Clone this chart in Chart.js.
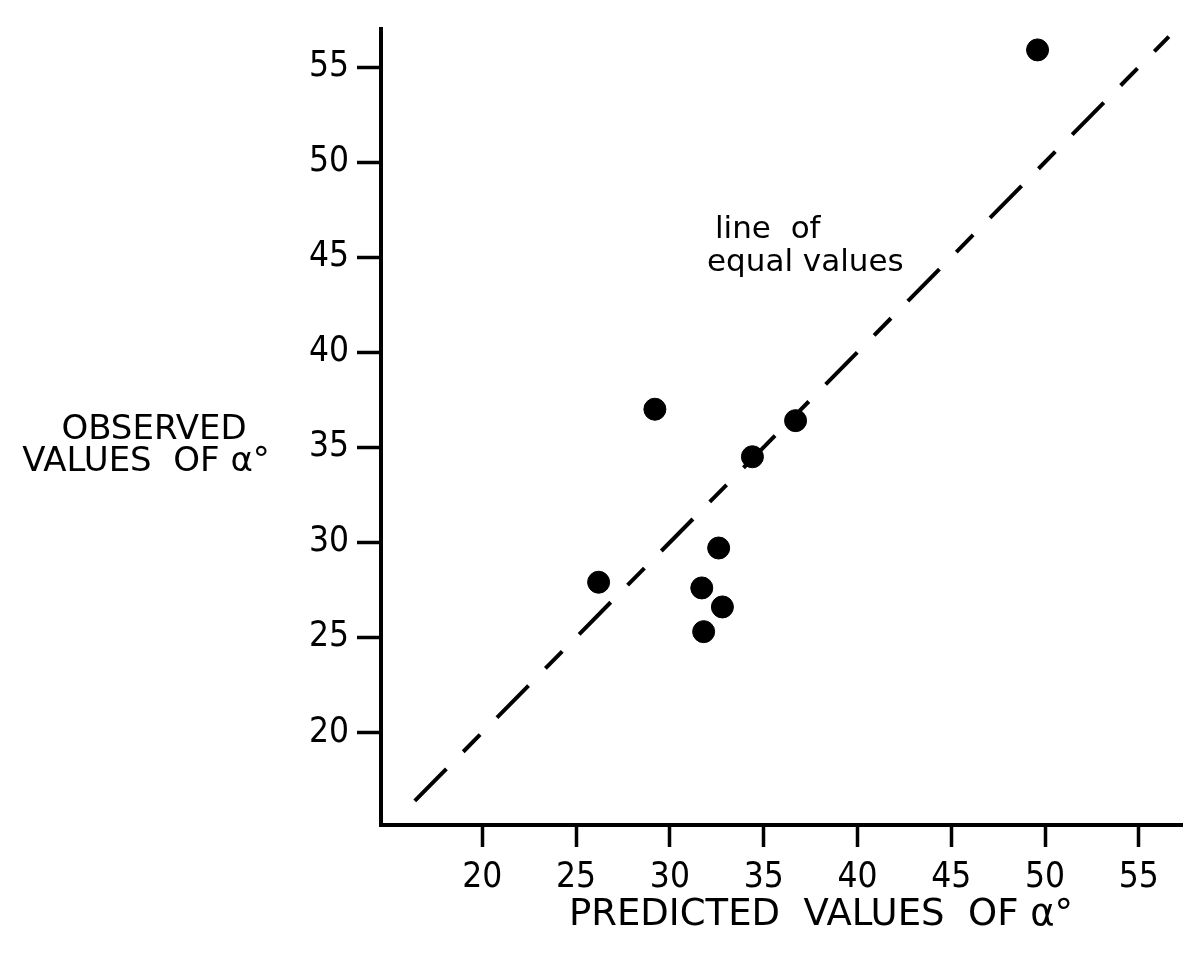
<!DOCTYPE html>
<html lang="en">
<head>
    <meta charset="UTF-8">
    <title>Observed vs predicted values of alpha</title>
    <script src="https://cdn.jsdelivr.net/npm/chart.js"></script>
    <style>
        body {
            margin: 0;
            background: #fff;
        }
        #chart {
            display: block;
        }
    </style>
</head>
<body>
    <canvas id="chart" width="1194" height="968"></canvas>

    <script>
        // values (degrees)
        const predicted = [26.2, 29.2, 31.7, 31.8, 32.6, 32.8, 34.4, 36.7, 49.6];
        const observed  = [27.9, 37.0, 27.6, 25.3, 29.7, 26.6, 34.5, 36.4, 55.9];

        // line of equal values runs from / to these
        const equalLine = [16.4, 56.6];

        // tick labels on both axes
        const tickValues = [20, 25, 30, 35, 40, 45, 50, 55];

        const tickFont = { family: "'Liberation Sans Narrow', 'DejaVu Sans Condensed', sans-serif", size: 35 };
        const textFont = "'DejaVu Sans', sans-serif";

        // axis titles and the label next to the dashed line
        const labelsPlugin = {
            id: 'labels',
            afterDraw(chart) {
                const ctx = chart.ctx;
                ctx.save();
                ctx.fillStyle = '#000';
                ctx.textBaseline = 'alphabetic';
                ctx.textAlign = 'center';

                ctx.font = '34px ' + textFont;
                ctx.fillText('OBSERVED', 154, 439);
                ctx.fillText('VALUES  OF \u03b1\u00b0', 146, 471);

                ctx.font = '37px ' + textFont;
                ctx.fillText('PREDICTED  VALUES  OF \u03b1\u00b0', 821, 925);

                ctx.font = '31px ' + textFont;
                ctx.textAlign = 'left';
                ctx.fillText('line  of', 715, 238);
                ctx.fillText('equal values', 707, 271);
                ctx.restore();
            }
        };

        const ctx = document.getElementById('chart').getContext('2d');
        new Chart(ctx, {
            type: 'scatter',
            data: {
                datasets: [
                    {
                        data: predicted.map((x, i) => ({ x: x, y: observed[i] })),
                        backgroundColor: '#000',
                        borderColor: '#000',
                        pointRadius: 11,
                        pointHoverRadius: 11
                    },
                    {
                        data: equalLine.map(v => ({ x: v, y: v })),
                        showLine: true,
                        borderColor: '#000',
                        borderWidth: 4,
                        borderDash: [45, 24, 24, 24],
                        pointRadius: 0,
                        clip: false
                    }
                ]
            },
            options: {
                responsive: false,
                animation: false,
                devicePixelRatio: 1,
                layout: {
                    padding: { top: 22, right: 0, left: 0, bottom: 0 }
                },
                plugins: {
                    legend: { display: false },
                    tooltip: { enabled: false }
                },
                scales: {
                    x: {
                        type: 'linear',
                        min: 14.6,
                        max: 57.3,
                        afterBuildTicks: s => { s.ticks = tickValues.map(v => ({ value: v })); },
                        afterFit: s => { s.height = 143; },
                        grid: {
                            drawOnChartArea: false,
                            tickLength: 22,
                            tickWidth: 3.5,
                            tickColor: '#000'
                        },
                        border: { display: true, color: '#000', width: 4 },
                        ticks: {
                            color: '#000',
                            font: tickFont,
                            padding: 10,
                            maxRotation: 0,
                            autoSkip: false
                        }
                    },
                    y: {
                        type: 'linear',
                        min: 15.13,
                        max: 57,
                        afterBuildTicks: s => { s.ticks = tickValues.map(v => ({ value: v })); },
                        afterFit: s => { s.width = 381; },
                        grid: {
                            drawOnChartArea: false,
                            tickLength: 24,
                            tickWidth: 3.5,
                            tickColor: '#000'
                        },
                        border: { display: true, color: '#000', width: 4 },
                        ticks: {
                            color: '#000',
                            font: tickFont,
                            padding: 8,
                            autoSkip: false
                        }
                    }
                }
            },
            plugins: [labelsPlugin]
        });
    </script>
</body>
</html>
